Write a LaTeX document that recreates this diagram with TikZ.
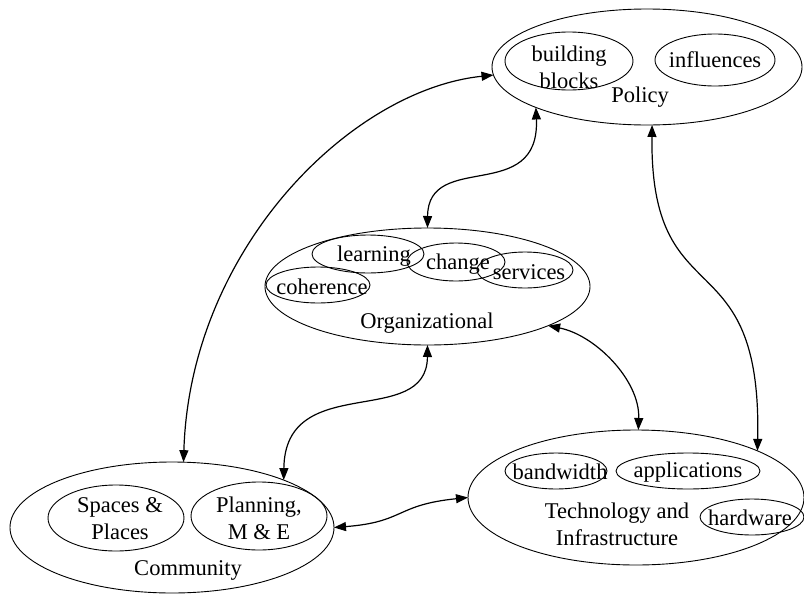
\documentclass[tikz,border=0pt]{standalone}
\usepackage{fontspec}
\setmainfont{Liberation Serif}
\usetikzlibrary{shapes.geometric,arrows.meta}
\begin{document}
\begin{tikzpicture}[x=1pt,y=-1pt,
  ring/.style={draw, ellipse, inner sep=0pt, outer sep=0pt, line width=0.9pt},
  lbl/.style={inner sep=0pt, align=center, font=\fontsize{22.5}{27}\selectfont},
  link/.style={line width=1.2pt,
    {Triangle[length=12pt,width=9pt]}-{Triangle[length=12pt,width=9pt]}}]
\useasboundingbox (0,0) rectangle (804,595);

% outer domains
\node[ring, minimum width=310pt, minimum height=116pt] (pol) at (647,67) {};
\node[ring, minimum width=325pt, minimum height=117pt] (org) at (427.5,286.5) {};
\node[ring, minimum width=324pt, minimum height=131pt] (com) at (172,527.5) {};
\node[ring, minimum width=336pt, minimum height=135pt] (tec) at (636,497.5) {};

% Policy
\node[ring, minimum width=128pt, minimum height=58pt] (bb) at (569,61) {};
\node[ring, minimum width=120pt, minimum height=52pt] (inf) at (715,60) {};
\node[lbl] (tbb) at (569,67) {building\\blocks};
\node[lbl] (tinf) at (715,60) {influences};
\node[lbl] (tpol) at (640,97) {Policy};

% Organizational
\node[ring, minimum width=112pt, minimum height=38pt] (lea) at (368,254) {};
\node[ring, minimum width=98pt, minimum height=38pt] (cha) at (456,262) {};
\node[ring, minimum width=96pt, minimum height=36pt] (ser) at (525,270) {};
\node[ring, minimum width=104pt, minimum height=36pt] (coh) at (318,285) {};
\node[lbl] (tlea) at (374,256) {learning};
\node[lbl] (tcha) at (458,264) {change};
\node[lbl] (tser) at (529,272) {services};
\node[lbl] (tcoh) at (322,287) {coherence};
\node[lbl] (torg) at (427,323) {Organizational};

% Community
\node[ring, minimum width=136pt, minimum height=66pt] (spa) at (116,518) {};
\node[ring, minimum width=136pt, minimum height=68pt] (pla) at (259,516) {};
\node[lbl] (tspa) at (120,519) {Spaces \&\\Places};
\node[lbl] (tpla) at (259,518) {Planning,\\M \& E};
\node[lbl] (tcom) at (188,570) {Community};

% Technology and Infrastructure
\node[ring, minimum width=102pt, minimum height=36pt] (ban) at (556,471) {};
\node[ring, minimum width=144pt, minimum height=36pt] (app) at (688,471) {};
\node[ring, minimum width=104pt, minimum height=36pt] (har) at (752,517) {};
\node[lbl] (tban) at (560,472) {bandwidth};
\node[lbl] (tapp) at (688,472) {applications};
\node[lbl] (thar) at (750,518) {hardware};
\node[lbl] (ttec) at (617,524) {Technology and\\Infrastructure};

% two-way links
\draw[link] (com.80) .. controls (190,250) and (350,90) .. (pol.183);
\draw[link] (pol.200.6) .. controls (540,205) and (428,150) .. (org.90);
\draw[link] (org.270) .. controls (427,430) and (285,370) .. (com.23.3);
\draw[link] (org.342) .. controls (595,335) and (640,380) .. (tec.88);
\draw[link] (pol.275) .. controls (650,320) and (762,235) .. (tec.21);
\draw[link] (com.0) .. controls (405,522) and (395,505) .. (tec.180);
\end{tikzpicture}
\end{document}
